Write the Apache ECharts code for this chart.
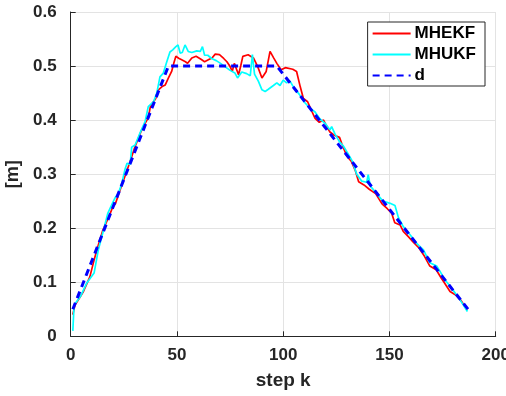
<!DOCTYPE html>
<html>
<head>
<meta charset="utf-8">
<script src="https://cdn.jsdelivr.net/npm/echarts@6/dist/echarts.min.js"></script>
<style>
html,body{margin:0;padding:0;background:#fff;}
#chart{width:506px;height:396px;}
</style>
</head>
<body>
<div id="chart"></div>
<script>
// ---- data ----
var seriesNames = ['MHEKF', 'MHUKF', 'd'];
var xTicks = [0, 50, 100, 150, 200];
var yTicks = [0, 0.1, 0.2, 0.3, 0.4, 0.5, 0.6];

var ekfK = [1, 2, 3, 6, 9, 11, 13, 15, 18, 20, 21, 23, 25, 28, 30, 33, 35, 36.5, 37.5, 40, 41, 43, 44.5, 46, 47.5, 48.5, 49.5, 51, 52, 54, 55, 57, 59, 61.5, 63, 65, 66.5, 68, 70, 72, 73.5, 75, 76, 77, 79, 80, 81, 83.5, 86, 88, 90, 92, 93.8, 95.5, 97, 99, 101, 104.5, 106.3, 108, 109.5, 111.5, 113.5, 115, 117, 119, 120.5, 122, 124, 126.5, 127.5, 130, 132, 134, 135.5, 138, 140.5, 143.5, 146.5, 149, 151, 152.5, 155, 156.5, 159, 161, 164, 166.5, 169, 172, 174.5, 176, 178.5, 181, 183.5, 186.5];
var ekfV = [0.04, 0.058, 0.064, 0.083, 0.11, 0.141, 0.169, 0.195, 0.222, 0.241, 0.245, 0.268, 0.29, 0.324, 0.348, 0.378, 0.394, 0.404, 0.425, 0.44, 0.455, 0.462, 0.465, 0.478, 0.49, 0.505, 0.518, 0.514, 0.512, 0.508, 0.505, 0.515, 0.518, 0.512, 0.508, 0.512, 0.515, 0.522, 0.521, 0.514, 0.508, 0.499, 0.49, 0.505, 0.484, 0.5, 0.518, 0.521, 0.515, 0.499, 0.478, 0.49, 0.527, 0.515, 0.505, 0.493, 0.497, 0.494, 0.49, 0.462, 0.44, 0.434, 0.416, 0.403, 0.396, 0.4, 0.388, 0.378, 0.372, 0.368, 0.357, 0.333, 0.324, 0.306, 0.286, 0.28, 0.272, 0.264, 0.245, 0.236, 0.228, 0.21, 0.206, 0.194, 0.184, 0.175, 0.163, 0.148, 0.13, 0.123, 0.107, 0.098, 0.083, 0.077, 0.067, 0.049];

var ukfK = [1, 1.6, 4.5, 7.5, 11, 13, 15.5, 17.5, 20, 21, 22.5, 24, 25.5, 26.5, 28, 28.7, 30.3, 32.6, 35, 36.5, 39, 40.5, 42, 43.6, 45, 46.7, 48, 49.5, 50.5, 51.5, 52.5, 53.8, 55.3, 57, 59.3, 61, 62, 63, 64.5, 66.3, 68.5, 70.5, 72.6, 75, 77.3, 78.5, 80.5, 82.8, 84.5, 85.5, 86.5, 88.3, 90, 91.5, 93, 95.4, 97, 98.5, 100, 101.6, 103.2, 105, 107.5, 110, 112.6, 115, 117.3, 119.7, 122, 122.8, 124.4, 126.5, 128.3, 130.5, 132.5, 134.6, 137, 139.3, 140, 141, 144, 147, 150.3, 152.6, 154.2, 156.5, 159.7, 162.8, 166, 169, 172.2, 173.8, 176.2, 179.3, 183.3, 186.7];
var ukfV = [0.01, 0.058, 0.073, 0.098, 0.117, 0.16, 0.197, 0.228, 0.249, 0.257, 0.265, 0.282, 0.308, 0.32, 0.318, 0.35, 0.354, 0.376, 0.397, 0.425, 0.434, 0.45, 0.48, 0.487, 0.505, 0.526, 0.53, 0.536, 0.539, 0.524, 0.525, 0.539, 0.527, 0.525, 0.528, 0.527, 0.536, 0.52, 0.52, 0.514, 0.51, 0.505, 0.499, 0.492, 0.487, 0.478, 0.489, 0.486, 0.482, 0.521, 0.485, 0.472, 0.456, 0.453, 0.457, 0.464, 0.469, 0.464, 0.474, 0.469, 0.472, 0.46, 0.448, 0.433, 0.422, 0.415, 0.402, 0.394, 0.382, 0.388, 0.374, 0.36, 0.352, 0.338, 0.324, 0.3, 0.287, 0.285, 0.299, 0.278, 0.264, 0.25, 0.246, 0.242, 0.22, 0.203, 0.188, 0.172, 0.16, 0.136, 0.13, 0.12, 0.104, 0.089, 0.067, 0.046];

var dK = [1, 46, 97, 187];
var dV = [0.05, 0.5, 0.5, 0.05];

function zip(a, b) { return a.map(function (v, i) { return [v, b[i]]; }); }

var font = 'Liberation Sans, Arial, Helvetica, sans-serif';
var txt = '#262626';

var chart = echarts.init(document.getElementById('chart'));
chart.setOption({
  animation: false,
  backgroundColor: '#ffffff',
  grid: { left: 70.7, right: 10.3, top: 12, bottom: 59.7, containLabel: false, outerBoundsMode: 'none' },
  legend: {
    orient: 'vertical',
    right: 21,
    top: 22,
    backgroundColor: '#ffffff',
    borderColor: '#262626',
    borderWidth: 1,
    borderRadius: 0,
    padding: [3, 9, 2, 4],
    itemWidth: 38,
    itemHeight: 14,
    itemGap: 4,
    itemStyle: { opacity: 0 },
    textStyle: { fontFamily: font, fontWeight: 'bold', fontSize: 17, lineHeight: 16, color: '#000', padding: [0, 0, 0, -1] },
    data: seriesNames
  },
  xAxis: {
    type: 'value',
    min: xTicks[0], max: xTicks[xTicks.length - 1], interval: 50,
    name: 'step k', nameLocation: 'middle', nameGap: 35,
    nameTextStyle: { fontFamily: font, fontWeight: 'bold', fontSize: 19, color: txt },
    axisLine: { show: true, lineStyle: { color: txt, width: 1 } },
    axisTick: { show: true, inside: true, length: 5, lineStyle: { color: txt } },
    axisLabel: { fontFamily: font, fontWeight: 'bold', fontSize: 17, color: txt, margin: 11 },
    splitLine: { show: true, lineStyle: { color: '#e3e3e3', width: 1 } }
  },
  yAxis: {
    type: 'value',
    min: yTicks[0], max: yTicks[yTicks.length - 1], interval: 0.1,
    name: '[m]', nameLocation: 'middle', nameGap: 48,
    nameTextStyle: { fontFamily: font, fontWeight: 'bold', fontSize: 18, color: txt },
    axisLine: { show: true, lineStyle: { color: txt, width: 1 } },
    axisTick: { show: true, inside: true, length: 5, lineStyle: { color: txt } },
    axisLabel: {
      fontFamily: font, fontWeight: 'bold', fontSize: 17, color: txt, margin: 14,
      formatter: function (v) { return v === 0 ? '0' : v.toFixed(1); }
    },
    splitLine: { show: true, lineStyle: { color: '#e3e3e3', width: 1 } }
  },
  series: [
    { name: seriesNames[0], type: 'line', data: zip(ekfK, ekfV), symbol: 'none',
      lineStyle: { color: '#ff0000', width: 1.7 }, itemStyle: { color: '#ff0000' } },
    { name: seriesNames[1], type: 'line', data: zip(ukfK, ukfV), symbol: 'none',
      lineStyle: { color: '#00ffff', width: 1.7 }, itemStyle: { color: '#00ffff' } },
    { name: seriesNames[2], type: 'line', data: zip(dK, dV), symbol: 'none',
      lineStyle: { color: '#0000ff', width: 3, type: [7, 5] }, itemStyle: { color: '#0000ff' } }
  ]
});
</script>
</body>
</html>
